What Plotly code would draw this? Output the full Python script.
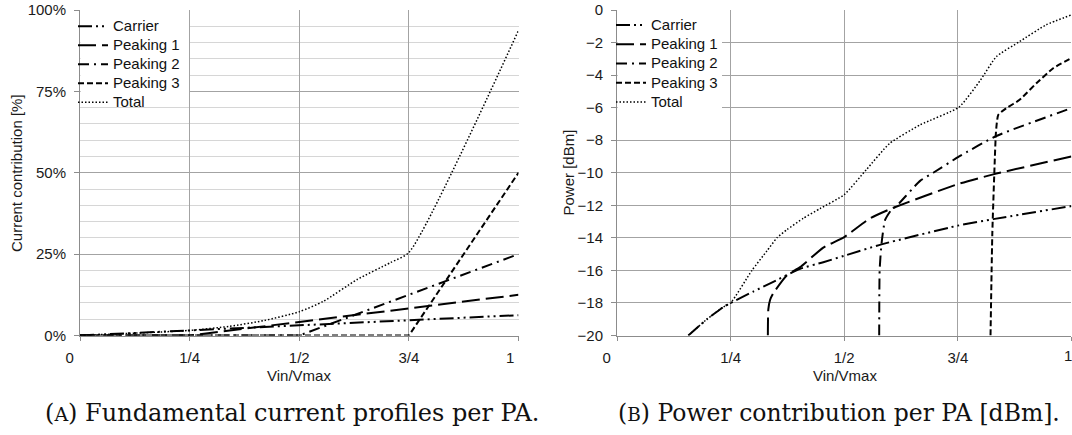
import plotly.graph_objects as go

W, H = 1072, 435

# ---------------- data: (A) current contribution [%] ----------------
xa = [0, 0.25, 0.5, 0.75, 1.0]
carrier_pct = [0, 1.56, 3.13, 4.69, 6.25]
peak1_pct = [0, 0, 4.17, 8.33, 12.5]
peak2_pct = [0, 0, 0, 12.5, 25.0]
peak3_pct = [0, 0, 0, 0, 50.0]
total_x = [0, 0.25, 0.34, 0.42, 0.5, 0.555, 0.632, 0.708, 0.75, 1.0]
total_pct = [0, 1.56, 2.8, 4.6, 7.3, 10.5, 17.2, 22.4, 25.5, 93.75]

# ---------------- data: (B) power [dBm] ----------------
car_x = [0.157, 0.198, 0.234, 0.25, 0.30, 0.344, 0.403, 0.454, 0.5, 0.582, 0.75, 0.828, 1.0]
car_db = [-20, -19.0, -18.25, -18.0, -17.3, -16.7, -15.9, -15.5, -15.1, -14.4, -13.25, -12.85, -12.05]
p1_x = [0.332, 0.333, 0.337, 0.344, 0.374, 0.403, 0.454, 0.5, 0.557, 0.604, 0.75, 0.828, 1.0]
p1_db = [-20, -18.4, -17.8, -17.4, -16.3, -15.8, -14.6, -13.95, -12.8, -12.2, -10.7, -10.1, -9.0]
p2_x = [0.577, 0.578, 0.582, 0.59, 0.604, 0.615, 0.667, 0.696, 0.753, 0.835, 1.0]
p2_db = [-20, -16.0, -14.4, -12.9, -12.27, -12.05, -10.5, -10.0, -9.0, -7.74, -6.03]
p3_x = [0.822, 0.826, 0.831, 0.834, 0.839, 0.857, 0.886, 0.923, 0.96, 1.0]
p3_db = [-20, -13.7, -9.5, -7.5, -6.45, -6.03, -5.52, -4.5, -3.58, -2.96]
tot_x = [0.157, 0.198, 0.234, 0.25, 0.297, 0.33, 0.352, 0.374, 0.41, 0.447, 0.5,
         0.549, 0.6, 0.667, 0.753, 0.8, 0.835, 0.886, 0.944, 1.0]
tot_db = [-20, -19.0, -18.25, -18.0, -16.0, -14.8, -14.0, -13.5, -12.8, -12.2, -11.35,
          -9.8, -8.2, -7.06, -5.96, -4.3, -2.86, -1.94, -0.92, -0.3]

names = ["Carrier", "Peaking 1", "Peaking 2", "Peaking 3", "Total"]
x_tickvals = [0, 0.25, 0.5, 0.75, 1.0]
NB = "\u00a0"
x_ticktext_a = ["0" + NB * 5, "1/4", "1/2", "3/4", "1" + NB * 4]
x_ticktext_b = ["0" + NB * 5, "1/4", "1/2", "3/4", ""]
ya_tickvals = [0, 25, 50, 75, 100]
ya_ticktext = ["0%", "25%", "50%", "75%", "100%"]

styles = [
    dict(color="black", width=2, dash="14px,4px,2px,4px,2px,4px"),
    dict(color="black", width=2, dash="18px,6px"),
    dict(color="black", width=2, dash="11px,5px,2px,5px"),
    dict(color="black", width=2, dash="6px,3px"),
    dict(color="black", width=1.5, dash="1.5px,2px"),
]

SANS = "Liberation Sans, Arial, sans-serif"


def legname(n):
    return "<span style='font-size:15px'>%s</span>" % n


fig = go.Figure()

left_series = [(xa, carrier_pct), (xa, peak1_pct), (xa, peak2_pct), (xa, peak3_pct), (total_x, total_pct)]
for i, ((xs, ys), nm, st) in enumerate(zip(left_series, names, styles)):
    ln = dict(st)
    if i == 4:
        ln.update(shape="spline", smoothing=0.6)
    fig.add_trace(go.Scatter(x=xs, y=ys, name=legname(nm), mode="lines", line=ln,
                             xaxis="x", yaxis="y", legend="legend"))

right_series = [(car_x, car_db), (p1_x, p1_db), (p2_x, p2_db), (p3_x, p3_db), (tot_x, tot_db)]
for (xs, ys), nm, st in zip(right_series, names, styles):
    ln = dict(st)
    ln.update(shape="spline", smoothing=0.5)
    fig.add_trace(go.Scatter(x=xs, y=ys, name=legname(nm), mode="lines", line=ln,
                             xaxis="x2", yaxis="y2", legend="legend2"))

tickfont = dict(family=SANS, size=15, color="#1a1a1a")
ydom = [1 - 335.5 / H, 1 - 10 / H]
grid = "#a3a3a3"
axline = "#8c8c8c"

common_x = dict(range=[0, 1], tickmode="array", tickvals=x_tickvals, showgrid=True,
                gridcolor=grid, gridwidth=1, showline=True, linecolor=axline, linewidth=1,
                ticks="outside", ticklen=4, tickcolor=axline, tickfont=tickfont,
                zeroline=False, ticklabelstandoff=4)

fig.update_layout(
    width=W, height=H,
    margin=dict(l=0, r=0, t=0, b=0, autoexpand=False),
    paper_bgcolor="white", plot_bgcolor="white",
    xaxis=dict(domain=[80 / W, 518.5 / W], anchor="y", ticktext=x_ticktext_a, **common_x),
    yaxis=dict(domain=ydom, anchor="x", range=[0, 100], tickmode="array",
               tickvals=ya_tickvals, ticktext=ya_ticktext, showgrid=True, gridcolor=grid,
               minor=dict(tickmode="linear", tick0=0, dtick=5, showgrid=True,
                          gridcolor="#d6d6d6", ticks=""),
               showline=True, linecolor=axline, ticks="outside", ticklen=5,
               tickcolor=axline, tickfont=tickfont, zeroline=False, ticklabelstandoff=5),
    xaxis2=dict(domain=[617 / W, 1071.4 / W], anchor="y2", ticktext=x_ticktext_b, **common_x),
    yaxis2=dict(domain=ydom, anchor="x2", range=[-20, 0], tickmode="linear", tick0=-20,
                dtick=2, showgrid=True, gridcolor=grid, showline=True, linecolor=axline,
                ticks="outside", ticklen=5, tickcolor=axline, tickfont=tickfont,
                zeroline=False, ticklabelstandoff=5),
    showlegend=True,
    legend=dict(x=73 / W, y=1 - 11.8 / H, xanchor="left", yanchor="top",
                bgcolor="rgba(0,0,0,0)", borderwidth=0,
                font=dict(family=SANS, size=11.8, color="#111"),
                itemwidth=30, tracegroupgap=0, itemclick=False, itemdoubleclick=False),
    legend2=dict(x=611 / W, y=1 - 10.4 / H, xanchor="left", yanchor="top",
                 bgcolor="rgba(0,0,0,0)", borderwidth=0,
                 font=dict(family=SANS, size=12.5, color="#111"),
                 itemwidth=30, tracegroupgap=0, itemclick=False, itemdoubleclick=False),
)

# white backgrounds behind the legends (cover the grid lines as in the reference)
for (x0, x1, y0, y1) in [(80.6, 189, 11, 107), (617.6, 722, 11, 112)]:
    fig.add_shape(type="rect", xref="paper", yref="paper", x0=x0 / W, x1=x1 / W,
                  y0=1 - y1 / H, y1=1 - y0 / H, fillcolor="white", line=dict(width=0),
                  layer="above")

title_font = dict(family=SANS, size=15, color="#1a1a1a")
annos = [
    dict(text="1", x=1067.5 / W, y=1 - 355 / H, font=tickfont),
    dict(text="Vin/Vmax", x=299 / W, y=1 - 375 / H, font=title_font),
    dict(text="Vin/Vmax", x=845 / W, y=1 - 375 / H, font=title_font),
    dict(text="Current contribution [%]", x=16 / W, y=1 - 173 / H, textangle=-90, font=title_font),
    dict(text="Power [dBm]", x=568 / W, y=1 - 172.5 / H, textangle=-90, font=title_font),
    dict(text="(<span style='font-size:19px'>A</span>) Fundamental current profiles per PA.",
         x=291.5 / W, y=1 - 413 / H,
         font=dict(family="DejaVu Serif, serif", size=24, color="#111")),
    dict(text="(<span style='font-size:18.5px'>B</span>) Power contribution per PA [dBm].",
         x=838.5 / W, y=1 - 413 / H,
         font=dict(family="DejaVu Serif, serif", size=23.5, color="#111")),
]
for a in annos:
    fig.add_annotation(xref="paper", yref="paper", xanchor="center", yanchor="middle",
                       showarrow=False, **a)

fig.write_html("out.html")
